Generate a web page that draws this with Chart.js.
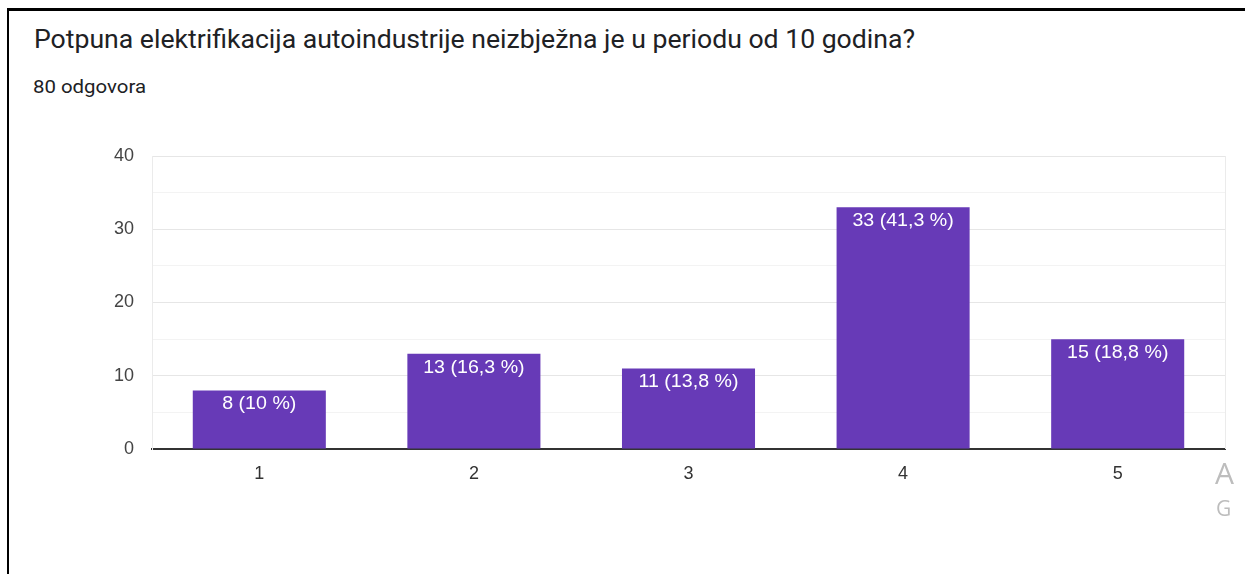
<!DOCTYPE html>
<html>
<head>
<meta charset="utf-8">
<script src="https://cdn.jsdelivr.net/npm/chart.js@4.4.0/dist/chart.umd.min.js"></script>
<style>
  html, body { margin: 0; padding: 0; background: #fff; }
  body { width: 1245px; height: 574px; overflow: hidden; position: relative; }
  #frame { position: absolute; left: 7px; top: 8px; width: 1300px; height: 700px;
           border-left: 2px solid #000; border-top: 3px solid #000; }
  #title { position: absolute; left: 34px; top: 25px; font: 25px Roboto, sans-serif; color: #202124;
           white-space: nowrap; transform-origin: 0 0; }
  #sub { position: absolute; left: 33px; top: 75px; font: 19px Roboto, sans-serif; color: #202124;
         white-space: nowrap; transform-origin: 0 0; }
  .wm { position: absolute; color: #bdbdbd; font-family: "Open Sans", sans-serif; }
  #wrap { position: absolute; left: 0; top: 0; width: 1245px; height: 574px; }
</style>
</head>
<body>
<div id="frame"></div>
<div id="title">Potpuna elektrifikacija autoindustrije neizbježna je u periodu od 10 godina?</div>
<div id="sub">80 odgovora</div>
<div id="wrap"><canvas id="myChart"></canvas></div>
<div class="wm" style="left:1215px; top:452px; font-size:30px;">A</div>
<div class="wm" style="left:1216px; top:494px; font-size:21px;">G</div>
<script>
const categories = ['1', '2', '3', '4', '5'];
const answers = [8, 13, 11, 33, 15];
const percents = ['10', '16,3', '13,8', '41,3', '18,8'];
const yTicks = [0, 10, 20, 30, 40];

// stretch text to the widths seen in the picture
function fitWidth(id, w) {
    const el = document.getElementById(id);
    el.style.transform = 'scaleX(' + (w / el.getBoundingClientRect().width) + ')';
}
fitWidth('title', 881);
fitWidth('sub', 113);

const barLabels = {
    id: 'barLabels',
    afterDatasetsDraw(chart) {
        const c = chart.ctx;
        const meta = chart.getDatasetMeta(0);
        c.save();
        c.fillStyle = '#fff';
        c.font = '18px "Liberation Sans", Arial, sans-serif';
        c.textAlign = 'center';
        c.textBaseline = 'middle';
        meta.data.forEach((bar, i) => {
            c.save();
            c.translate(bar.x, bar.y + 14);
            c.scale(1.09, 1);
            c.fillText(answers[i] + ' (' + percents[i] + ' %)', 0, 0);
            c.restore();
        });
        c.restore();
    }
};

const areaEdge = {
    id: 'areaEdge',
    beforeDatasetsDraw(chart) {
        const a = chart.chartArea;
        const c = chart.ctx;
        c.save();
        c.strokeStyle = '#ebebeb';
        c.lineWidth = 1;
        c.beginPath();
        c.moveTo(a.right + 0.5, a.top);
        c.lineTo(a.right + 0.5, a.bottom);
        c.stroke();
        c.restore();
    }
};

const ctx = document.getElementById('myChart').getContext('2d');
const myChart = new Chart(ctx, {
    type: 'bar',
    data: {
        labels: categories,
        datasets: [{
            data: answers,
            backgroundColor: '#673ab7',
            categoryPercentage: 1,
            barPercentage: 0.62
        }]
    },
    options: {
        responsive: true,
        maintainAspectRatio: false,
        animation: false,
        layout: { padding: { left: 0, top: 156, right: 20, bottom: 0 } },
        plugins: { legend: { display: false }, tooltip: { enabled: false } },
        scales: {
            x: {
                afterFit: s => { s.height = 125; },
                grid: { display: false, drawTicks: false },
                border: { color: '#333', width: 2 },
                ticks: { padding: 14, color: '#333', font: { size: 18, family: '"Liberation Sans", Arial' } }
            },
            y: {
                min: yTicks[0],
                max: yTicks[yTicks.length - 1],
                afterFit: s => { s.width = 152; },
                ticks: {
                    stepSize: 5,
                    padding: 18,
                    color: '#444',
                    font: { size: 18, family: '"Liberation Sans", Arial' },
                    callback: v => yTicks.includes(v) ? v : ''
                },
                grid: {
                    drawTicks: false,
                    color: c => yTicks.includes(c.tick.value) ? '#e6e6e6' : '#f3f3f3'
                },
                border: { color: '#ebebeb' }
            }
        }
    },
    plugins: [barLabels, areaEdge]
});
</script>
</body>
</html>
